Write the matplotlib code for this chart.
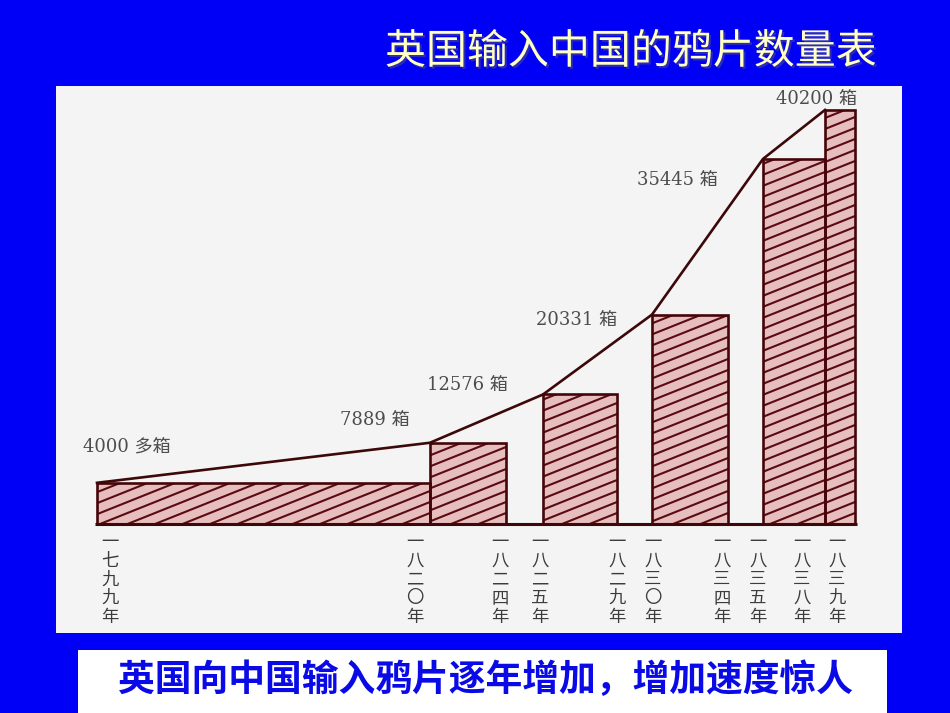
import matplotlib.pyplot as plt
import matplotlib.patheffects as pe
import numpy as np
from matplotlib.collections import LineCollection
from matplotlib.patches import Rectangle

plt.switch_backend("Agg")

# values
years = ["一七九九年", "一八二〇年", "一八二四年", "一八二五年", "一八二九年",
         "一八三〇年", "一八三四年", "一八三五年", "一八三八年", "一八三九年"]
amounts = [4000, 7889, 12576, 20331, 35445, 40200]
amount_labels = ["4000 多箱", "7889 箱", "12576 箱", "20331 箱", "35445 箱", "40200 箱"]
title = "英国输入中国的鸦片数量表"
caption = "英国向中国输入鸦片逐年增加，增加速度惊人"

# layout, in pixels of the 950x713 canvas
W, H = 950, 713
BASE_Y = 524            # pixel row of the baseline
PX_PER_CHEST = 0.0103   # vertical scale
tick_x = [110, 415, 500, 540, 617, 653, 722, 758, 802, 837]
bar_left = [97, 430, 543, 652, 763, 825]
bar_right = [430, 506, 617, 728, 825, 855]
label_offset = [(-14, 35), (-20, 22), (-35, 8), (-35, -6), (-45, -22), (32, 10)]
label_ha = ["left", "right", "right", "right", "right", "right"]

BLUE = "#0000f6"
PANEL = "#f4f4f4"
FILL = "#e6bebe"
HATCH = "#5a0a10"
EDGE = "#450508"
LINE = "#3c0808"
CJK = ["Noto Sans CJK SC", "DejaVu Sans"]
NUM = ["DejaVu Serif", "Noto Sans CJK SC"]

fig = plt.figure(figsize=(W / 100, H / 100), dpi=100)
fig.patch.set_facecolor(BLUE)
ax = fig.add_axes([0, 0, 1, 1])
ax.set_xlim(0, W)
ax.set_ylim((BASE_Y - H) / PX_PER_CHEST, BASE_Y / PX_PER_CHEST)
ax.axis("off")


def fig_rect(x0, y0, x1, y1, color):
    """Rectangle given in canvas pixels (y from the top)."""
    ax.add_patch(Rectangle((x0 / W, 1 - y1 / H), (x1 - x0) / W, (y1 - y0) / H,
                           transform=fig.transFigure, facecolor=color,
                           edgecolor="none", zorder=0))


# light panel behind the chart and white caption box
fig_rect(56, 86, 902, 633, PANEL)
fig_rect(78, 650, 887, 713, "white")

# bars with a shallow diagonal hatch
slope = 0.4 / PX_PER_CHEST
step = 11 / PX_PER_CHEST
for x0, x1, v in zip(bar_left, bar_right, amounts):
    rect = Rectangle((x0, 0), x1 - x0, v, facecolor=FILL, edgecolor="none", zorder=2)
    ax.add_patch(rect)
    offs = np.arange(-slope * (x1 - x0), v + step, step)
    segs = [[(x0, c), (x1, c + slope * (x1 - x0))] for c in offs]
    lc = LineCollection(segs, colors=HATCH, linewidths=1.5, zorder=3)
    ax.add_collection(lc)
    lc.set_clip_path(rect)
    ax.add_patch(Rectangle((x0, 0), x1 - x0, v, facecolor="none",
                           edgecolor=EDGE, lw=1.9, zorder=4))

# baseline
ax.hlines(0, 95, 857, color=LINE, lw=2.2, zorder=5)

# growth line through the top-left corners
ax.plot(bar_left, amounts, color=LINE, lw=1.9, zorder=6, solid_joinstyle="round")

# amount labels
for x, v, txt, off, ha in zip(bar_left, amounts, amount_labels, label_offset, label_ha):
    ax.annotate(txt, (x, v), xytext=off, textcoords="offset pixels",
                ha=ha, va="center", fontsize=13, color="#4d4d4d",
                family=NUM, zorder=7)

# year labels, written vertically
for x, yr in zip(tick_x, years):
    ax.annotate("\n".join(yr), (x, 0), xytext=(0, -9), textcoords="offset pixels",
                ha="center", va="top", fontsize=12.5, linespacing=1.05,
                color="#3c3c3c", family=CJK, zorder=7)

# title and caption
fig.text(631 / W, 1 - 52 / H, title, ha="center", va="center", fontsize=29.5,
         color="#ffffc4", family=CJK,
         path_effects=[pe.withSimplePatchShadow(offset=(1.5, -1.5),
                                                shadow_rgbFace="#555577", alpha=0.5)])
fig.text(485 / W, 1 - 681 / H, caption, ha="center", va="center", fontsize=26.5,
         fontweight="bold", color="#0a0ae6", family=CJK)

fig.savefig("out.png", dpi=100, facecolor=fig.get_facecolor())
